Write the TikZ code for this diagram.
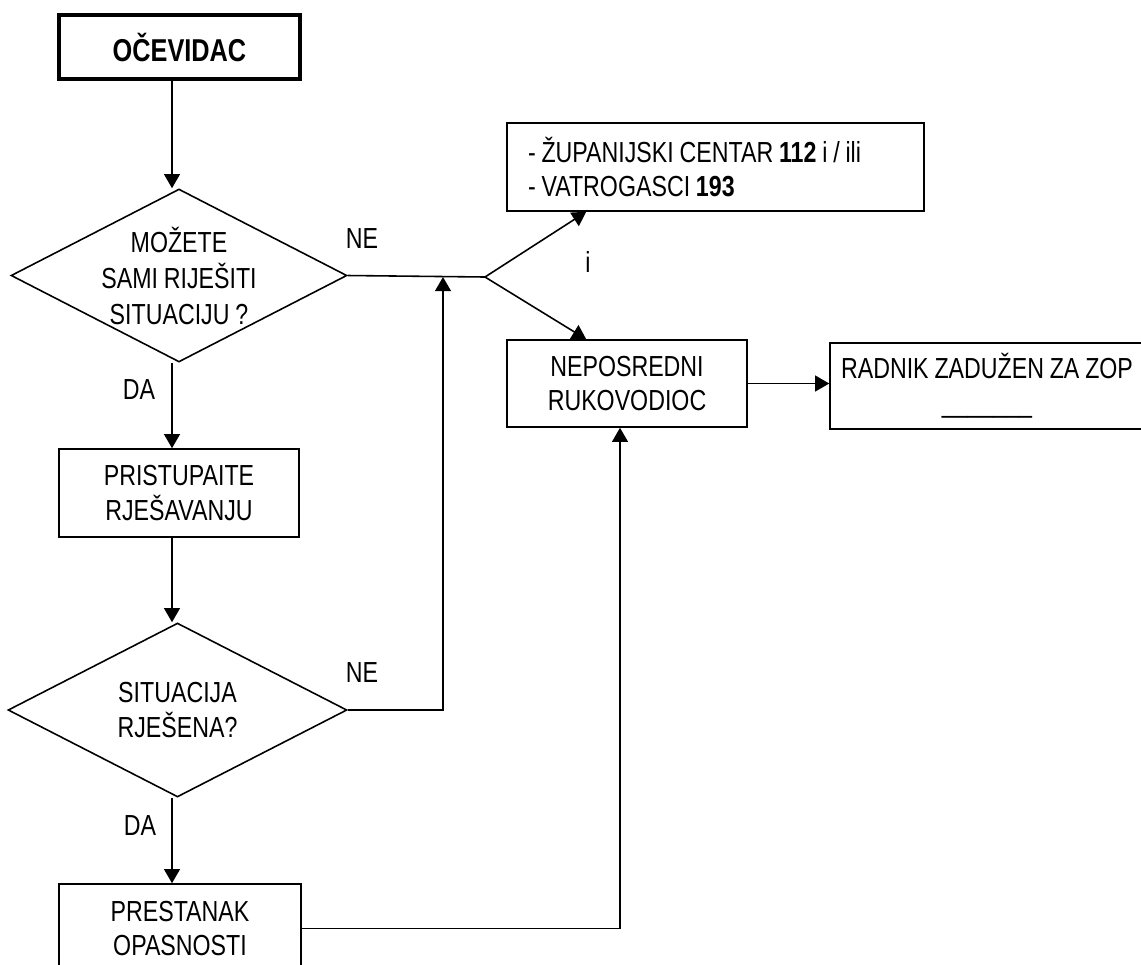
\documentclass[tikz,border=0pt]{standalone}
\usepackage{fontspec}
\setmainfont{Liberation Sans}[FakeStretch=0.8,WordSpace=0.9]
\usetikzlibrary{shapes.geometric,arrows.meta}

\begin{document}
\begin{tikzpicture}[x=0.02cm,y=-0.02cm,
        every node/.style={font=\fontsize{16.5}{19.5}\selectfont},
        box/.style={draw,line width=0.9pt,align=center,inner sep=0pt},
        decision/.style={draw,diamond,line width=0.9pt,inner sep=0pt},
        arr/.style={-{Triangle[length=8pt,width=9pt]},line width=0.9pt},
        ln/.style={line width=0.9pt}]
        \useasboundingbox (0,0) rectangle (1141,964);
        \node[box,line width=2.8pt,minimum width=4.82cm,minimum height=1.28cm,font=\fontsize{18}{20}\selectfont\bfseries] (ocevidac) at (179.5,47) {OČEVIDAC};
        \node[decision,minimum width=6.72cm,minimum height=3.46cm] (d1) at (179,275.5) {};
        \node[align=center,font=\fontsize{16.5}{20.5}\selectfont] (d1text) at (d1) {MOŽETE\\SAMI RIJEŠITI\\SITUACIJU ?};
        \node[box,minimum width=4.8cm,minimum height=1.76cm] (rjesavanje) at (179,493) {PRISTUPAITE\\RJEŠAVANJU};
        \node[decision,minimum width=6.78cm,minimum height=3.48cm] (d2) at (177.5,710) {};
        \node[align=center] (d2text) at (d2) {SITUACIJA\\RJEŠENA?};
        \node[box,minimum width=4.84cm,minimum height=1.78cm] (prestanak) at (180,928.5) {PRESTANAK\\OPASNOSTI};
        \node[box,minimum width=8.34cm,minimum height=1.76cm,align=flush left,text width=7.5cm] (tel) at (715.5,167) {- ŽUPANIJSKI CENTAR \textbf{112} i / ili\\- VATROGASCI \textbf{193}};
        \node[box,minimum width=4.8cm,minimum height=1.74cm] (nadredeni) at (627,383.5) {NEPOSREDNI\\RUKOVODIOC};
        \node[box,minimum width=6.28cm,minimum height=1.72cm] (zop) at (987,386) {RADNIK ZADUŽEN ZA ZOP\\\_\_\_\_\_\_\_};
        \node (ne1) at (362,239) {NE};
        \node (ne2) at (362,673) {NE};
        \node (da1) at (139,390) {DA};
        \node (da2) at (140,826) {DA};
        \node (ilabel) at (588,262) {i};
        \coordinate (col) at (172,0);
        \coordinate (split) at (485,277);
        \coordinate (join) at (443,277);
        \coordinate (back) at (620,0);
        \draw[arr] (ocevidac.south -| col) -- (d1.north -| col);
        \draw[arr] (d1.south -| col) -- (rjesavanje.north -| col);
        \draw[arr] (rjesavanje.south -| col) -- (d2.north -| col);
        \draw[arr] (d2.south -| col) -- (prestanak.north -| col);
        \draw[ln] (d1.east) -- (split);
        \draw[arr] (split) -- ([xshift=1.6cm]tel.south west);
        \draw[arr] (split) -- ([xshift=1.6cm]nadredeni.north west);
        \draw[arr] (d2.east) -| (join);
        \draw[arr] (prestanak.east) -| (back |- nadredeni.south);
        \draw[arr] (nadredeni.east) -- (nadredeni.east -| zop.west);
    \end{tikzpicture}
\end{document}
